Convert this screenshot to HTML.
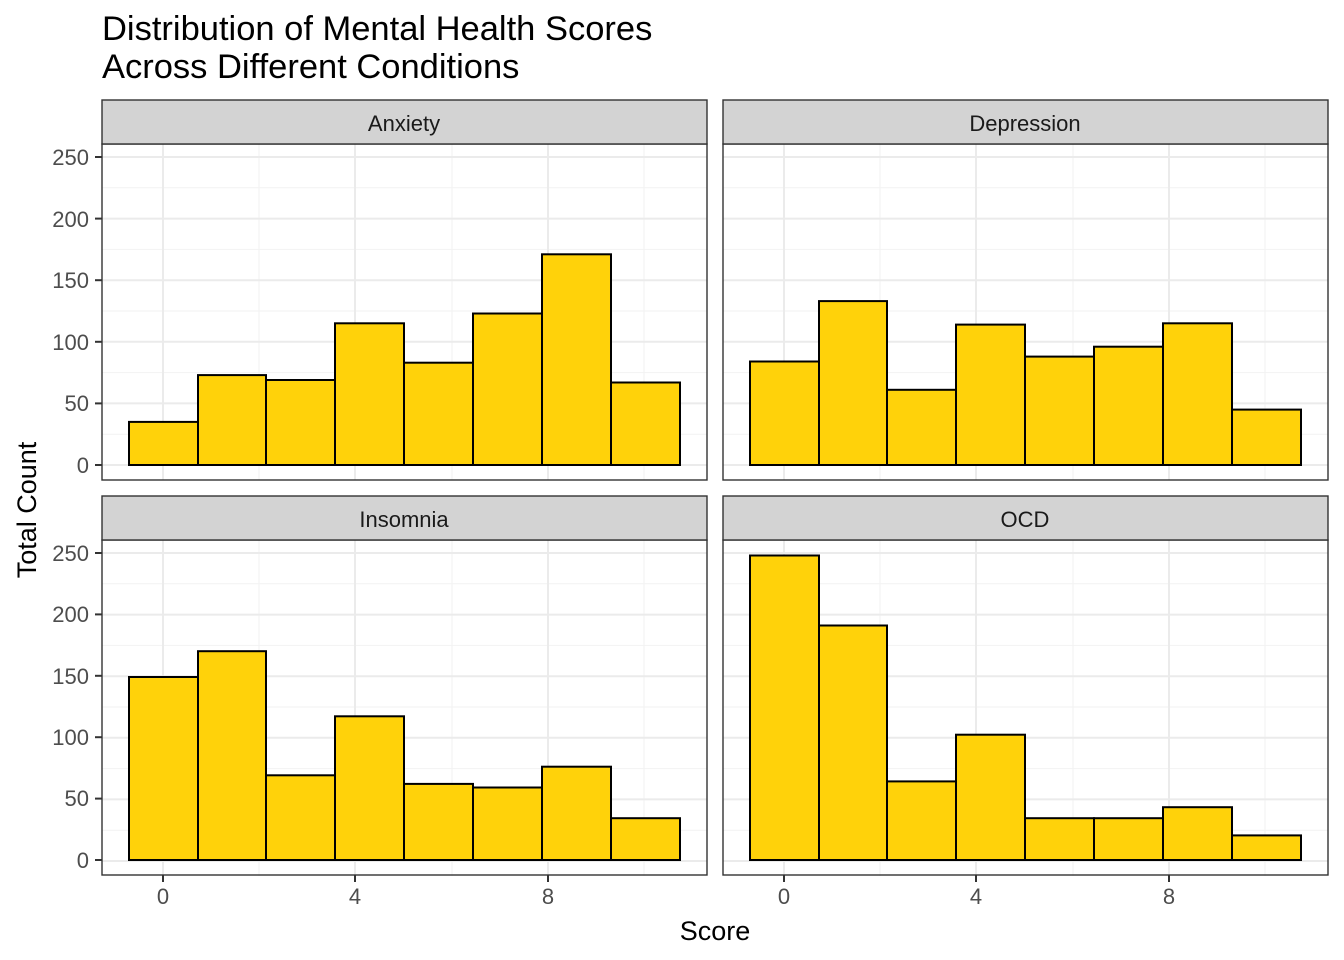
<!DOCTYPE html>
<html><head><meta charset="utf-8"><style>
body{margin:0;background:#fff}
svg{display:block;font-family:"Liberation Sans",Arial,sans-serif}
.mj{stroke:#ebebeb;stroke-width:2}
.mn{stroke:#f2f2f2;stroke-width:1}
.b{fill:#FFD20A;stroke:#000;stroke-width:2}
.tk{font-size:22px;fill:#4d4d4d}
.st{font-size:22px;fill:#1a1a1a}
</style></head><body>
<svg width="1344" height="960" viewBox="0 0 1344 960" xmlns="http://www.w3.org/2000/svg">
<rect width="1344" height="960" fill="#fff"/>
<text x="102" y="40" font-size="34.5" fill="#000">Distribution of Mental Health Scores</text>
<text x="102" y="78" font-size="34.5" fill="#000">Across Different Conditions</text>

<defs>
<g id="gt">
<line class="mn" x1="0" x2="605" y1="434.2" y2="434.2"/><line class="mn" x1="0" x2="605" y1="372.6" y2="372.6"/><line class="mn" x1="0" x2="605" y1="311" y2="311"/><line class="mn" x1="0" x2="605" y1="249.4" y2="249.4"/><line class="mn" x1="0" x2="605" y1="187.8" y2="187.8"/>
<line class="mn" x1="157" x2="157" y1="144" y2="480"/><line class="mn" x1="350" x2="350" y1="144" y2="480"/><line class="mn" x1="542" x2="542" y1="144" y2="480"/>
<line class="mj" x1="0" x2="605" y1="465" y2="465"/><line class="mj" x1="0" x2="605" y1="403.4" y2="403.4"/><line class="mj" x1="0" x2="605" y1="341.8" y2="341.8"/><line class="mj" x1="0" x2="605" y1="280.2" y2="280.2"/><line class="mj" x1="0" x2="605" y1="218.6" y2="218.6"/><line class="mj" x1="0" x2="605" y1="157" y2="157"/>
<line class="mj" x1="61" x2="61" y1="144" y2="480"/><line class="mj" x1="253" x2="253" y1="144" y2="480"/><line class="mj" x1="446" x2="446" y1="144" y2="480"/>
</g>
</defs>

<g transform="translate(102,0)"><use href="#gt"/></g>
<g transform="translate(723,0)"><use href="#gt"/></g>
<g transform="translate(102,396)"><use href="#gt"/></g>
<g transform="translate(723,396)"><use href="#gt"/></g>

<rect class="b" x="129" y="421.9" width="69" height="43.1"/>
<rect class="b" x="198" y="375.1" width="68" height="89.9"/>
<rect class="b" x="266" y="380" width="69" height="85"/>
<rect class="b" x="335" y="323.3" width="69" height="141.7"/>
<rect class="b" x="404" y="362.7" width="69" height="102.3"/>
<rect class="b" x="473" y="313.5" width="69" height="151.5"/>
<rect class="b" x="542" y="254.3" width="69" height="210.7"/>
<rect class="b" x="611" y="382.5" width="69" height="82.5"/>
<rect class="b" x="750" y="361.5" width="69" height="103.5"/>
<rect class="b" x="819" y="301.1" width="68" height="163.9"/>
<rect class="b" x="887" y="389.8" width="69" height="75.2"/>
<rect class="b" x="956" y="324.6" width="69" height="140.4"/>
<rect class="b" x="1025" y="356.6" width="69" height="108.4"/>
<rect class="b" x="1094" y="346.7" width="69" height="118.3"/>
<rect class="b" x="1163" y="323.3" width="69" height="141.7"/>
<rect class="b" x="1232" y="409.6" width="69" height="55.4"/>
<rect class="b" x="129" y="677" width="69" height="183"/>
<rect class="b" x="198" y="651.2" width="68" height="208.8"/>
<rect class="b" x="266" y="775.3" width="69" height="84.7"/>
<rect class="b" x="335" y="716.3" width="69" height="143.7"/>
<rect class="b" x="404" y="783.9" width="69" height="76.1"/>
<rect class="b" x="473" y="787.5" width="69" height="72.5"/>
<rect class="b" x="542" y="766.7" width="69" height="93.3"/>
<rect class="b" x="611" y="818.2" width="69" height="41.8"/>
<rect class="b" x="750" y="555.5" width="69" height="304.5"/>
<rect class="b" x="819" y="625.5" width="68" height="234.5"/>
<rect class="b" x="887" y="781.4" width="69" height="78.6"/>
<rect class="b" x="956" y="734.7" width="69" height="125.3"/>
<rect class="b" x="1025" y="818.2" width="69" height="41.8"/>
<rect class="b" x="1094" y="818.2" width="69" height="41.8"/>
<rect class="b" x="1163" y="807.2" width="69" height="52.8"/>
<rect class="b" x="1232" y="835.4" width="69" height="24.6"/>

<g fill="none" stroke="#333" stroke-width="1.4">
<rect x="102" y="144" width="605" height="336"/><rect x="723" y="144" width="605" height="336"/>
<rect x="102" y="540" width="605" height="335"/><rect x="723" y="540" width="605" height="335"/>
</g>
<g fill="#d3d3d3" stroke="#333" stroke-width="1.4">
<rect x="102" y="100" width="605" height="44"/><rect x="723" y="100" width="605" height="44"/>
<rect x="102" y="496" width="605" height="44"/><rect x="723" y="496" width="605" height="44"/>
</g>
<g class="st" text-anchor="middle">
<text x="404" y="131">Anxiety</text><text x="1025" y="131">Depression</text>
<text x="404" y="527">Insomnia</text><text x="1025" y="527">OCD</text>
</g>

<g stroke="#333" stroke-width="2">
<line x1="95" x2="102" y1="465" y2="465"/><line x1="95" x2="102" y1="403.4" y2="403.4"/><line x1="95" x2="102" y1="341.8" y2="341.8"/><line x1="95" x2="102" y1="280.2" y2="280.2"/><line x1="95" x2="102" y1="218.6" y2="218.6"/><line x1="95" x2="102" y1="157" y2="157"/>
<line x1="95" x2="102" y1="860" y2="860"/><line x1="95" x2="102" y1="798.6" y2="798.6"/><line x1="95" x2="102" y1="737.2" y2="737.2"/><line x1="95" x2="102" y1="675.8" y2="675.8"/><line x1="95" x2="102" y1="614.4" y2="614.4"/><line x1="95" x2="102" y1="553" y2="553"/>
<line x1="163" x2="163" y1="875" y2="882"/><line x1="355" x2="355" y1="875" y2="882"/><line x1="548" x2="548" y1="875" y2="882"/>
<line x1="784" x2="784" y1="875" y2="882"/><line x1="976" x2="976" y1="875" y2="882"/><line x1="1169" x2="1169" y1="875" y2="882"/>
</g>
<g class="tk" text-anchor="end">
<text x="89" y="473">0</text><text x="89" y="411">50</text><text x="89" y="350">100</text><text x="89" y="288">150</text><text x="89" y="227">200</text><text x="89" y="165">250</text>
<text x="89" y="868">0</text><text x="89" y="806">50</text><text x="89" y="745">100</text><text x="89" y="684">150</text><text x="89" y="622">200</text><text x="89" y="561">250</text>
</g>
<g class="tk" text-anchor="middle">
<text x="163" y="904">0</text><text x="355" y="904">4</text><text x="548" y="904">8</text>
<text x="784" y="904">0</text><text x="976" y="904">4</text><text x="1169" y="904">8</text>
</g>
<text x="715" y="940" font-size="27" text-anchor="middle" fill="#000">Score</text>
<text transform="translate(36,510) rotate(-90)" font-size="27" text-anchor="middle" fill="#000">Total Count</text>
</svg>
</body></html>
